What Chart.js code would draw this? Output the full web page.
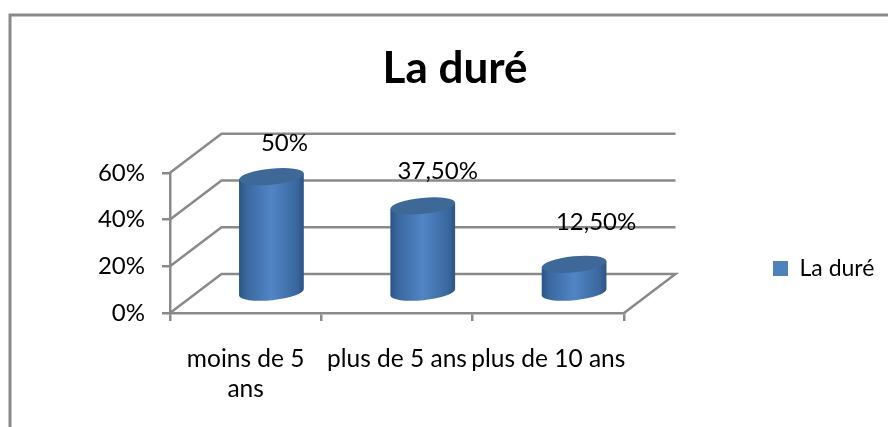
<!DOCTYPE html>
<html><head><meta charset="utf-8">
<style>html,body{margin:0;padding:0;background:#fff;overflow:hidden}canvas{display:block}</style>
<script src="https://cdn.jsdelivr.net/npm/chart.js@4/dist/chart.umd.min.js"></script>
</head><body><canvas id="c" width="888" height="427"></canvas>
<script>
const categories = [['moins de 5', 'ans'], 'plus de 5 ans', 'plus de 10 ans'];
const seriesName = 'La duré';
const values = [50, 37.5, 12.5];
const valueLabels = ['50%', '37,50%', '12,50%'];
const yTicks = [0, 20, 40, 60];

const FONT = 'Lato, Carlito, "Open Sans", sans-serif';
const LINE = '#8a8a8a';
const WALL_DX = 51.5, WALL_DY = -39;          // depth of the 3D box
const labelNudge = [[13, -33], [15, -34.5], [22, -42.5]];

const frame = {
  id: 'frame',
  beforeDraw(chart) {
    const c = chart.ctx;
    c.save();
    c.strokeStyle = LINE; c.lineWidth = 3;
    c.beginPath(); c.moveTo(10, 427); c.lineTo(10, 15); c.lineTo(888, 15); c.stroke();
    c.restore();
  },
  beforeLayout(chart) {
    const lg = chart.legend;
    if (lg && !lg._wrapped) {
      const fit = lg.fit;
      lg.fit = function () { fit.call(this); this.width = 888 - 624; };
      lg._wrapped = true;
    }
  },
  afterLayout(chart) {
    const lg = chart.legend;
    lg.left = 773; lg.right = 888; lg.top = 257; lg.bottom = 283;
    lg.width = 115; lg.height = 26;
  }
};

const cylinders = {
  id: 'cylinders',
  beforeDatasetsDraw(chart) {
    const c = chart.ctx, a = chart.chartArea, y = chart.scales.y;
    c.save();
    // walls and floor, from the value axis
    c.strokeStyle = LINE; c.lineWidth = 2.5;
    y.ticks.forEach(t => {
      const py = y.getPixelForValue(t.value);
      c.beginPath();
      c.moveTo(a.left, py);
      c.lineTo(a.left + WALL_DX, py + WALL_DY);
      c.lineTo(a.right + WALL_DX, py + WALL_DY);
      if (t.value === 0) c.lineTo(a.right, py);
      c.stroke();
    });
    // cylinders, from the bar elements
    const meta = chart.getDatasetMeta(0);
    const tilt = -0.1, ry = 8;
    meta.data.forEach((el, i) => {
      const cx = el.x + WALL_DX / 2, rx = el.width / 2;
      const topY = el.y + WALL_DY / 2, botY = el.base + WALL_DY / 2;
      const ox = rx * Math.cos(tilt), oy = rx * Math.sin(tilt);
      const g = c.createLinearGradient(cx - rx, 0, cx + rx, 0);
      g.addColorStop(0, '#2c5484');
      g.addColorStop(0.12, '#3a689f');
      g.addColorStop(0.5, '#5285c6');
      g.addColorStop(0.88, '#3a689f');
      g.addColorStop(1, '#2c5484');
      c.fillStyle = g;
      c.beginPath();
      c.moveTo(cx - ox, topY - oy);
      c.lineTo(cx - ox, botY - oy);
      c.ellipse(cx, botY, rx, ry, tilt, Math.PI, 0, true);
      c.lineTo(cx + ox, topY + oy);
      c.closePath();
      c.fill();
      c.fillStyle = '#3e6898';
      c.beginPath();
      c.ellipse(cx, topY, rx, ry, tilt, 0, Math.PI * 2);
      c.fill();
    });
    // value labels
    c.fillStyle = '#000';
    c.font = '24px ' + FONT;
    c.textAlign = 'center'; c.textBaseline = 'middle';
    meta.data.forEach((el, i) => {
      const cx = el.x + WALL_DX / 2, topY = el.y + WALL_DY / 2;
      c.fillText(valueLabels[i], cx + labelNudge[i][0], topY + labelNudge[i][1]);
    });
    c.restore();
    return false;
  }
};

new Chart(document.getElementById('c'), {
  type: 'bar',
  data: {
    labels: categories,
    datasets: [{ label: seriesName, data: values, backgroundColor: '#4f81bd', borderWidth: 0,
      barPercentage: 0.43, categoryPercentage: 1 }]
  },
  plugins: [frame, cylinders],
  options: {
    responsive: false,
    animation: false,
    devicePixelRatio: 1,
    layout: { padding: { left: 22, right: 0, top: 0, bottom: 0 } },
    plugins: {
      tooltip: { enabled: false },
      title: {
        display: true, text: seriesName, color: '#000',
        font: { family: FONT, size: 44, weight: 'bold', lineHeight: 1.2 },
        padding: { top: 42, bottom: 78 }
      },
      legend: {
        display: true, position: 'right', align: 'start',
        labels: { boxWidth: 15, boxHeight: 15, padding: 0, color: '#000',
          font: { family: FONT, size: 23 } }
      }
    },
    scales: {
      x: {
        afterFit(s) { s.height = 114; },
        grid: { display: true, drawOnChartArea: false, color: LINE, tickColor: LINE, tickLength: 8, lineWidth: 2.5 },
        border: { display: true, color: LINE, width: 2.5 },
        ticks: { color: '#000', font: { family: FONT, size: 24.5, lineHeight: 1.22 }, padding: 23,
          maxRotation: 0, minRotation: 0, autoSkip: false }
      },
      y: {
        min: 0, max: 60,
        afterFit(s) { s.width = 148; },
        afterBuildTicks(s) { s.ticks = yTicks.map(v => ({ value: v })); },
        grid: { display: true, drawOnChartArea: false, color: LINE, tickColor: LINE, tickLength: 8, lineWidth: 2.5 },
        border: { display: true, color: LINE, width: 2.5 },
        ticks: { color: '#000', font: { family: FONT, size: 24 }, padding: 17, callback: v => v + '%' }
      }
    }
  }
});
</script></body></html>
